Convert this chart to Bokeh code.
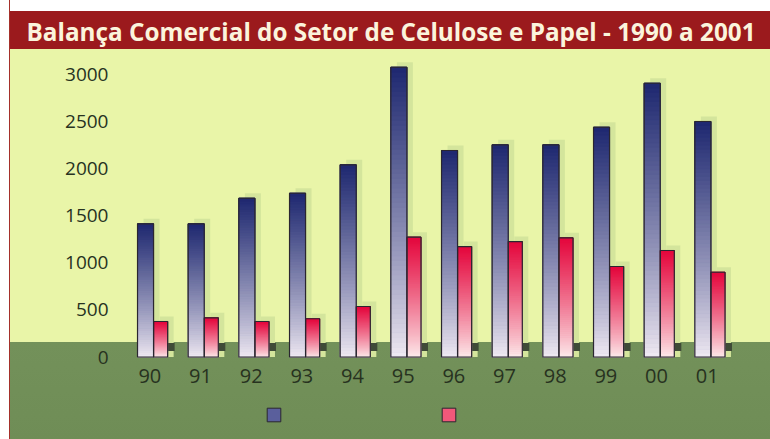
from bokeh.plotting import figure
from bokeh.models import ColumnDataSource, FactorRange, Range1d, FixedTicker, Legend, LegendItem
from bokeh.transform import dodge
from bokeh.embed import file_html
from bokeh.resources import INLINE

# ---- data ----
years = ["90", "91", "92", "93", "94", "95", "96", "97", "98", "99", "00", "01"]
exports = [1414, 1414, 1686, 1739, 2041, 3077, 2193, 2253, 2253, 2440, 2907, 2501]
imports = [377, 416, 377, 406, 536, 1272, 1173, 1226, 1266, 961, 1131, 900]
y_ticks = [0, 500, 1000, 1500, 2000, 2500, 3000]
title_text = "Balança Comercial do Setor de Celulose e Papel - 1990 a 2001"

# ---- style ----
PX = 50.64                      # pixels per category
BLUE_W, RED_W = 16 / PX, 14 / PX
BLUE_OFF, RED_OFF = -4.3 / PX, 10.8 / PX
UNIT_PX = 0.09417               # pixels per value unit
BLUE_DARK, BLUE_LIGHT = (0x1e, 0x28, 0x70), (0xf2, 0xec, 0xf4)
RED_DARK, RED_LIGHT = (0xe4, 0x06, 0x3c), (0xfd, 0xee, 0xee)
N_SLICES = 60

def mix(c_light, c_dark, t):
    return "#%02x%02x%02x" % tuple(int(round(a + (b - a) * t)) for a, b in zip(c_light, c_dark))

def slices(values, light, dark):
    xs, bots, tops, cols = [], [], [], []
    for cat, v in zip(years, values):
        for k in range(N_SLICES):
            xs.append(cat)
            bots.append(v * k / N_SLICES)
            tops.append(v * (k + 1) / N_SLICES)
            cols.append(mix(light, dark, ((k + 0.5) / N_SLICES) ** 0.85))
    return ColumnDataSource(dict(x=xs, bottom=bots, top=tops, color=cols))

FRAME_TOP, FRAME_BOTTOM, ZERO_Y = 50, 436, 356.5   # page pixels
Y_START = -(FRAME_BOTTOM - ZERO_Y) / UNIT_PX
Y_END = (ZERO_Y - FRAME_TOP) / UNIT_PX

p = figure(
    width=770, height=439,
    x_range=FactorRange(*years, range_padding=0),
    y_range=Range1d(Y_START, Y_END),
    output_backend="svg", toolbar_location=None,
    min_border_left=124, min_border_right=38, min_border_top=FRAME_TOP,
    min_border_bottom=439 - FRAME_BOTTOM,
)
p.styles = {"background": "linear-gradient(to right, #ffffff 0px, #ffffff 9px, #a5302a 9px, "
                          "#a5302a 10px, transparent 10px), "
                          "linear-gradient(to bottom, #ffffff 0px, #ffffff 11px, "
                          "#9b1a1d 11px, #9b1a1d 49px, #e9f5a8 49px, #e9f5a8 342px, "
                          "#73915a 342px, #6f8d56 439px)"}
p.background_fill_alpha = 0
p.border_fill_alpha = 0
p.outline_line_color = None
p.grid.visible = False

# title
p.title.text = title_text
p.title.text_font = "Open Sans"
p.title.text_font_style = "bold"
p.title.text_font_size = "24.3px"
p.title.text_color = "#fbf4dc"
p.title.align = "left"
p.title.offset = -98
p.title.standoff = 6

src = ColumnDataSource(dict(x=years, exp=exports, imp=imports,
                            exp_sh=[v + 5 / UNIT_PX for v in exports],
                            imp_sh=[v + 5 / UNIT_PX for v in imports]))

# soft shadows behind bars (offset up/right)
p.vbar(x=dodge("x", BLUE_OFF + 6 / PX, range=p.x_range), top="exp_sh", bottom=0, width=BLUE_W,
       source=src, fill_color="#d4e59c", line_color=None)
p.vbar(x=dodge("x", RED_OFF + 6 / PX, range=p.x_range), top="imp_sh", bottom=0, width=RED_W,
       source=src, fill_color="#d4e59c", line_color=None)
# dark contact shadow at the back wall / floor joint
p.vbar(x=dodge("x", RED_OFF + (RED_W + 7 / PX) / 2, range=p.x_range),
       top=14 / UNIT_PX, bottom=6 / UNIT_PX, width=7 / PX,
       source=src, fill_color="#3f4b37", line_color=None)

# base bars (used for the legend)
b_base = p.vbar(x=dodge("x", BLUE_OFF, range=p.x_range), top="exp", bottom=0, width=BLUE_W,
                source=src, fill_color="#5a5f9c", line_color="#2a2630", line_width=1)
r_base = p.vbar(x=dodge("x", RED_OFF, range=p.x_range), top="imp", bottom=0, width=RED_W,
                source=src, fill_color="#f2587a", line_color="#2a2630", line_width=1)

# gradient slices
bs = slices(exports, BLUE_LIGHT, BLUE_DARK)
rs = slices(imports, RED_LIGHT, RED_DARK)
p.vbar(x=dodge("x", BLUE_OFF, range=p.x_range), top="top", bottom="bottom", width=BLUE_W,
       source=bs, fill_color="color", line_color="color", line_width=1)
p.vbar(x=dodge("x", RED_OFF, range=p.x_range), top="top", bottom="bottom", width=RED_W,
       source=rs, fill_color="color", line_color="color", line_width=1)

# outlines on top
p.vbar(x=dodge("x", BLUE_OFF, range=p.x_range), top="exp", bottom=0, width=BLUE_W,
       source=src, fill_alpha=0, line_color="#2a2630", line_width=1.2)
p.vbar(x=dodge("x", RED_OFF, range=p.x_range), top="imp", bottom=0, width=RED_W,
       source=src, fill_alpha=0, line_color="#2a2630", line_width=1.2)

# axes
p.yaxis.ticker = FixedTicker(ticks=y_ticks)
for ax in (p.xaxis[0], p.yaxis[0]):
    ax.axis_line_color = None
    ax.major_tick_line_color = None
    ax.minor_tick_line_color = None
    ax.major_tick_out = 0
    ax.major_tick_in = 0
    ax.major_label_text_font = "Open Sans"
    ax.major_label_text_color = "#27321f"
p.yaxis.major_label_text_font_size = "19px"
p.yaxis.major_label_standoff = 16
p.xaxis.major_label_text_font_size = "20px"
p.xaxis.major_label_standoff = 6
p.xaxis.fixed_location = -(362 - ZERO_Y) / UNIT_PX

legend = Legend(items=[LegendItem(label=" ", renderers=[b_base]),
                       LegendItem(label=" ", renderers=[r_base])],
                orientation="horizontal", location=(141, FRAME_BOTTOM - 422.5),
                glyph_width=17, glyph_height=17, label_standoff=0, label_width=0,
                label_text_font_size="1px", spacing=158, padding=0, margin=0,
                background_fill_alpha=0, border_line_color=None)
p.add_layout(legend, "center")

open("out.html", "w").write(file_html(p, INLINE))
